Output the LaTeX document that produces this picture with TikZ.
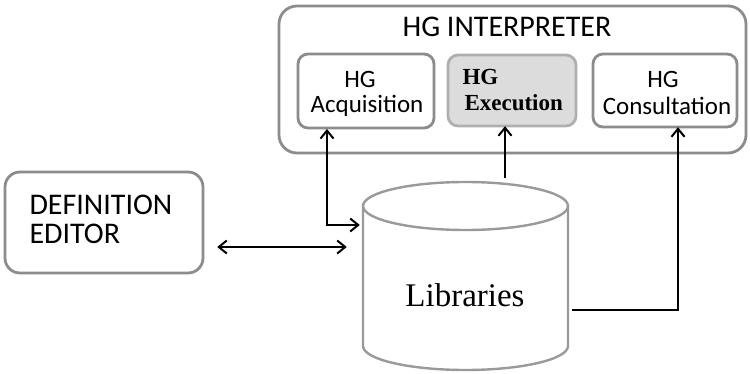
\documentclass[tikz,border=0pt]{standalone}
\usepackage{fontspec}
\setmainfont{Liberation Serif}
\newfontfamily\carlitofont{Carlito}
\usetikzlibrary{arrows.meta}
\definecolor{bordergray}{HTML}{8C8C8C}
\definecolor{cylgray}{HTML}{9A9A9A}
\definecolor{execfill}{HTML}{DCDCDC}
\tikzset{
  pbox/.style={draw=bordergray, line width=2.8pt, rounded corners=10pt, fill=white},
  conn/.style={draw=black, line width=2.3pt, arrows={-Straight Barb[length=8pt,width=13pt,line width=2pt]}},
  conn2/.style={draw=black, line width=2.3pt, arrows={Straight Barb[length=8pt,width=13pt,line width=2pt]-Straight Barb[length=8pt,width=13pt,line width=2pt]}},
}
\begin{document}
\begin{tikzpicture}[x=1pt,y=-1pt]
\useasboundingbox (0,0) rectangle (750,374);
% outer interpreter box
\draw[draw=bordergray, line width=2.8pt, rounded corners=18pt] (279,6) rectangle (746,153);
\node[font=\carlitofont\fontsize{30}{32}\selectfont] (title) at (507,27) {HG INTERPRETER};
% inner boxes
\draw[pbox] (298,54) rectangle (434,128);
\node[inner sep=0pt, minimum width=136pt, minimum height=74pt] (acq) at (366,91) {};
\node[font=\carlitofont\fontsize{25}{27}\selectfont] (acq1) at (360,79) {HG};
\node[font=\carlitofont\fontsize{25}{27}\selectfont] (acq2) at (367,106) {Acquisition};

\draw[pbox, fill=execfill, draw=bordergray!70] (448,55) rectangle (576,126);
\node[inner sep=0pt, minimum width=128pt, minimum height=71pt] (exe) at (512,90.5) {};
\node[font=\bfseries\fontsize{23}{25}\selectfont, anchor=west] (exe1) at (459,77) {HG};
\node[font=\bfseries\fontsize{23}{25}\selectfont, anchor=west] (exe2) at (461,103) {Execution};

\draw[pbox] (593,54) rectangle (737,127);
\node[inner sep=0pt, minimum width=144pt, minimum height=73pt] (con) at (665,90.5) {};
\node[font=\carlitofont\fontsize{25}{27}\selectfont] (con1) at (663,79) {HG};
\node[font=\carlitofont\fontsize{25}{27}\selectfont] (con2) at (667,106) {Consultation};

% definition editor
\draw[pbox, rounded corners=15pt] (5,172) rectangle (203,273);
\node[inner sep=0pt, minimum width=198pt, minimum height=101pt] (def) at (104,222.5) {};
\node[font=\carlitofont\fontsize{30}{32}\selectfont, anchor=west] (def1) at (26,205) {DEFINITION};
\node[font=\carlitofont\fontsize{30}{32}\selectfont, anchor=west] (def2) at (26,234) {EDITOR};

% cylinder
\draw[draw=cylgray, line width=2.4pt, fill=white]
  (363,206) -- (363,346) arc[start angle=180, end angle=360, x radius=102.5pt, y radius=24pt]
  -- (568,206) arc[start angle=0, end angle=180, x radius=102.5pt, y radius=24pt] -- cycle;
\draw[draw=cylgray, line width=2.4pt] (363,206) arc[start angle=180, end angle=360, x radius=102.5pt, y radius=24pt];
\node[inner sep=0pt, minimum width=205pt, minimum height=188pt] (lib) at (465.5,276) {};
\node[font=\fontsize{33}{35}\selectfont] (libtext) at (465,295) {Libraries};

% connectors
\coordinate (acqin) at (327,225);
\coordinate (acqtop) at (327,129);
\draw[conn2] (acqtop) |- ([xshift=-3pt]acqin -| lib.west);
\coordinate (exefoot) at (505,178);
\draw[conn] (exefoot) -- (exefoot |- exe.south);
\coordinate (conbend) at (678,310);
\draw[conn] ([xshift=4pt]lib.east |- conbend) -- (conbend) -- (conbend |- con.south);
\draw[conn2] ([xshift=14pt]def.east |- 0,247) -- ([xshift=-16pt]lib.west |- 0,247);
\end{tikzpicture}
\end{document}
